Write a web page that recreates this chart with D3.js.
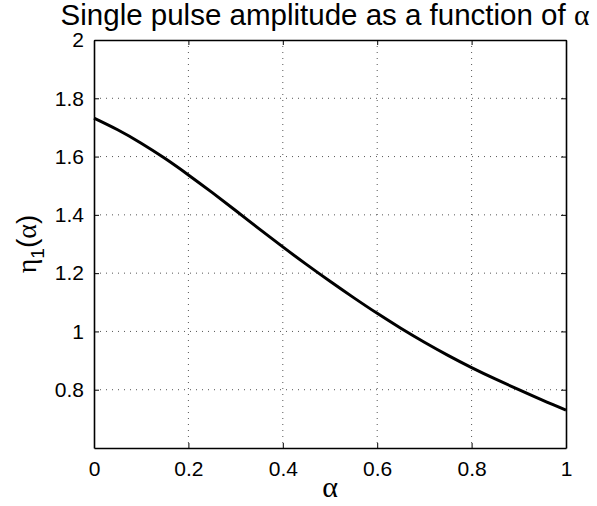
<!DOCTYPE html>
<html>
<head>
<meta charset="utf-8">
<script src="https://cdn.jsdelivr.net/npm/d3@7"></script>
<style>
  body { margin: 0; background: #fff; overflow: hidden; }
  svg { display: block; }
  text { font-family: "Liberation Sans", Arial, sans-serif; fill: #000; }
  .greek { font-family: "Liberation Serif", "Times New Roman", serif; }
</style>
</head>
<body>
<div id="chart"></div>
<script>
// curve values
const alphaValues = [0, 0.05, 0.1, 0.15, 0.2, 0.25, 0.3, 0.35, 0.4, 0.45, 0.5,
    0.55, 0.6, 0.65, 0.7, 0.75, 0.8, 0.85, 0.9, 0.95, 1];
const etaValues = [1.732, 1.692, 1.646, 1.594, 1.537, 1.477, 1.415, 1.352, 1.290, 1.230, 1.172,
    1.116, 1.062, 1.011, 0.963, 0.918, 0.876, 0.837, 0.800, 0.764, 0.730];
const xTicks = [0, 0.2, 0.4, 0.6, 0.8, 1];
const yTicks = [0.8, 1, 1.2, 1.4, 1.6, 1.8, 2];

const width = 597;
const height = 506;
const margins = { top: 40, right: 31, bottom: 58, left: 94 };
const innerWidth = width - margins.left - margins.right;
const innerHeight = height - margins.top - margins.bottom;

const svg = d3.select('#chart').append('svg')
    .attr('width', width)
    .attr('height', height);

const g = svg.append('g')
    .attr('transform', 'translate(' + margins.left + ',' + margins.top + ')');

const x = d3.scaleLinear().domain([0, 1]).range([0, innerWidth]);
const y = d3.scaleLinear().domain([0.6, 2]).range([innerHeight, 0]);

// dotted grid
g.append('g').selectAll('line')
    .data(xTicks.slice(1, -1))
    .join('line')
    .attr('x1', d => x(d)).attr('x2', d => x(d))
    .attr('y1', 0).attr('y2', innerHeight)
    .attr('stroke', '#555').attr('stroke-width', 1)
    .attr('stroke-dasharray', '1,5');

g.append('g').selectAll('line')
    .data(yTicks.slice(0, -1))
    .join('line')
    .attr('y1', d => y(d)).attr('y2', d => y(d))
    .attr('x1', 0).attr('x2', innerWidth)
    .attr('stroke', '#555').attr('stroke-width', 1)
    .attr('stroke-dasharray', '1,5');

// axes with inward ticks, box on
const tickLen = 5;
const xAxis = g.append('g')
    .attr('transform', 'translate(0,' + innerHeight + ')')
    .call(d3.axisBottom(x).tickValues(xTicks).tickFormat(d3.format('')).tickSizeInner(-tickLen).tickSizeOuter(0).tickPadding(13));
const xAxisTop = g.append('g')
    .call(d3.axisTop(x).tickValues(xTicks).tickFormat('').tickSizeInner(-tickLen).tickSizeOuter(0));
const yAxis = g.append('g')
    .call(d3.axisLeft(y).tickValues(yTicks).tickFormat(d3.format('')).tickSizeInner(-tickLen).tickSizeOuter(0).tickPadding(10));
const yAxisRight = g.append('g')
    .attr('transform', 'translate(' + innerWidth + ',0)')
    .call(d3.axisRight(y).tickValues(yTicks).tickFormat('').tickSizeInner(-tickLen).tickSizeOuter(0));

[xAxis, xAxisTop, yAxis, yAxisRight].forEach(a => {
    a.select('.domain').attr('stroke', '#000').attr('stroke-width', 1.6);
    a.selectAll('.tick line').attr('stroke', '#000').attr('stroke-width', 1);
    a.selectAll('.tick text')
        .style('font-family', '"Liberation Sans", Arial, sans-serif')
        .style('font-size', '21px')
        .attr('fill', '#000');
});

// curve
const line = d3.line()
    .x((d, i) => x(alphaValues[i]))
    .y(d => y(d))
    .curve(d3.curveNatural);

g.append('path')
    .datum(etaValues)
    .attr('d', line)
    .attr('fill', 'none')
    .attr('stroke', '#000')
    .attr('stroke-width', 3);

// title
const title = svg.append('text')
    .attr('x', 325)
    .attr('y', 25)
    .attr('text-anchor', 'middle')
    .style('font-size', '29.5px');
title.append('tspan').text('Single pulse amplitude as a function of ');
title.append('tspan').attr('class', 'greek').text('α');

// x label
svg.append('text')
    .attr('class', 'greek')
    .attr('x', margins.left + innerWidth / 2)
    .attr('y', 497)
    .attr('text-anchor', 'middle')
    .style('font-size', '30px')
    .text('α');

// y label
const yLabel = svg.append('text')
    .attr('transform', 'translate(36,' + (margins.top + innerHeight / 2) + ') rotate(-90)')
    .attr('text-anchor', 'middle')
    .style('font-size', '28px');
yLabel.append('tspan').attr('class', 'greek').text('η');
yLabel.append('tspan').attr('dy', 8).style('font-size', '19px').text('1');
yLabel.append('tspan').attr('dy', -8).text('(');
yLabel.append('tspan').attr('class', 'greek').text('α');
yLabel.append('tspan').text(')');
</script>
</body>
</html>
